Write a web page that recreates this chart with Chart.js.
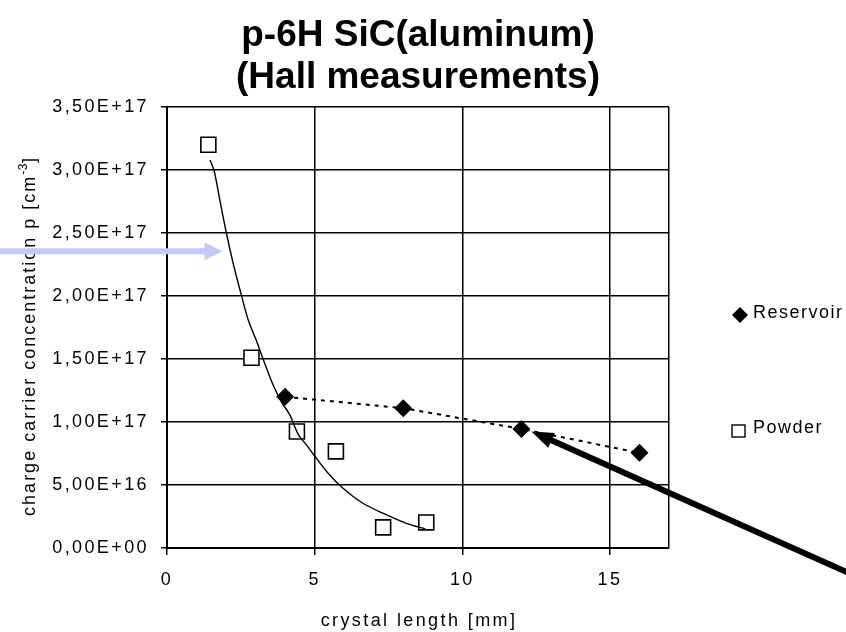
<!DOCTYPE html>
<html>
<head>
<meta charset="utf-8">
<script src="https://cdn.jsdelivr.net/npm/chart.js@4"></script>
<style>
html,body{margin:0;padding:0;background:#fff;}
#wrap{width:846px;height:632px;position:relative;}
canvas{display:block;}
</style>
</head>
<body>
<div id="wrap"><canvas id="c" width="846" height="632"></canvas></div>
<script>
// ---------- data ----------
const titleLines = ['p-6H SiC(aluminum)', '(Hall measurements)'];
const xAxisTitle = 'crystal length [mm]';
const yAxisTitleMain = 'charge carrier concentration p [cm';
const yAxisTitleSup = '-3';
const yAxisTitleEnd = ']';
const seriesNames = ['Reservoir', 'Powder'];

const reservoirX = [4, 8, 12, 16];
const reservoirY = [1.20e17, 1.11e17, 9.45e16, 7.55e16];

const powderX = [1.4, 2.86, 4.4, 5.72, 7.32, 8.78];
const powderY = [3.20e17, 1.51e17, 9.25e16, 7.67e16, 1.64e16, 2.03e16];

// hand-drawn trend curve through the powder points
const powderTrendX = [1.46, 1.60, 1.79, 2.02, 2.24, 2.47, 2.75, 3.02, 3.30, 3.62, 3.90, 4.15, 4.45, 4.75, 4.97, 5.45, 5.95, 6.62, 7.29, 8.08, 8.75];
const powderTrendY = [3.08e17, 2.99e17, 2.76e17, 2.49e17, 2.26e17, 2.05e17, 1.81e17, 1.65e17, 1.47e17, 1.28e17, 1.15e17, 1.06e17, 9.0e16, 8.1e16, 7.4e16, 5.95e16, 4.76e16, 3.57e16, 2.78e16, 1.98e16, 1.51e16];

const xTickValues = [0, 5, 10, 15, 17];
const xTickLabels = ['0', '5', '10', '15', ''];
const yTickValues = [0, 5e16, 1e17, 1.5e17, 2e17, 2.5e17, 3e17, 3.5e17];
const yTickLabels = ['0,00E+00', '5,00E+16', '1,00E+17', '1,50E+17', '2,00E+17', '2,50E+17', '3,00E+17', '3,50E+17'];

// ---------- styles ----------
const FAMILY = '"Liberation Sans", Arial, Helvetica, sans-serif';
const AXIS_FONT = 18;
const LS = '2.4px';

function pts(xs, ys) { return xs.map((x, i) => ({ x: x, y: ys[i] })); }

const spacingPlugin = {
  id: 'spacing',
  beforeLayout(chart) { chart.ctx.letterSpacing = LS; },
  beforeDraw(chart) { chart.ctx.letterSpacing = LS; }
};

function arrow(ctx, x0, y0, x1, y1, w, headLen, headHalf, color) {
  const dx = x1 - x0, dy = y1 - y0;
  const L = Math.hypot(dx, dy);
  const ux = dx / L, uy = dy / L;
  const bx = x1 - ux * headLen, by = y1 - uy * headLen;
  ctx.save();
  ctx.strokeStyle = color; ctx.fillStyle = color;
  ctx.lineWidth = w; ctx.lineCap = 'butt';
  ctx.beginPath(); ctx.moveTo(x0, y0); ctx.lineTo(bx + ux * 2, by + uy * 2); ctx.stroke();
  ctx.beginPath();
  ctx.moveTo(x1, y1);
  ctx.lineTo(bx - uy * headHalf, by + ux * headHalf);
  ctx.lineTo(bx + uy * headHalf, by - ux * headHalf);
  ctx.closePath(); ctx.fill();
  ctx.restore();
}

const decorPlugin = {
  id: 'decor',
  afterDraw(chart) {
    const ctx = chart.ctx;
    const ca = chart.chartArea;
    const xs = chart.scales.x, ys = chart.scales.y;
    ctx.save();
    ctx.fillStyle = '#000';
    // chart title
    ctx.letterSpacing = '0px';
    ctx.font = 'bold 37px ' + FAMILY;
    ctx.textAlign = 'center';
    ctx.textBaseline = 'alphabetic';
    const cx = (ca.left + ca.right) / 2;
    ctx.fillText(titleLines[0], cx, 46);
    ctx.fillText(titleLines[1], cx, 88);

    // x axis title
    ctx.letterSpacing = LS;
    ctx.font = AXIS_FONT + 'px ' + FAMILY;
    ctx.fillText(xAxisTitle, cx + 1, 626);

    // y axis title (rotated, with superscript)
    const YLS = '2px';
    ctx.save();
    ctx.translate(35, 336);
    ctx.rotate(-Math.PI / 2);
    ctx.textAlign = 'left';
    ctx.letterSpacing = YLS;
    ctx.font = AXIS_FONT + 'px ' + FAMILY;
    const w1 = ctx.measureText(yAxisTitleMain).width;
    const w3 = ctx.measureText(yAxisTitleEnd).width;
    ctx.font = '12px ' + FAMILY;
    ctx.letterSpacing = '0.5px';
    const w2 = ctx.measureText(yAxisTitleSup).width;
    let tx = -(w1 + w2 + w3) / 2;
    ctx.letterSpacing = YLS;
    ctx.font = AXIS_FONT + 'px ' + FAMILY;
    ctx.fillText(yAxisTitleMain, tx, 0);
    ctx.font = '12px ' + FAMILY;
    ctx.letterSpacing = '0.5px';
    ctx.fillText(yAxisTitleSup, tx + w1, -8);
    ctx.letterSpacing = YLS;
    ctx.font = AXIS_FONT + 'px ' + FAMILY;
    ctx.fillText(yAxisTitleEnd, tx + w1 + w2, 0);
    ctx.restore();

    // legend
    ctx.letterSpacing = '1.5px';
    ctx.font = AXIS_FONT + 'px ' + FAMILY;
    ctx.textAlign = 'left';
    ctx.textBaseline = 'alphabetic';
    // Reservoir marker (diamond)
    ctx.beginPath();
    ctx.moveTo(740, 307); ctx.lineTo(748, 315); ctx.lineTo(740, 323); ctx.lineTo(732, 315); ctx.closePath();
    ctx.fill();
    ctx.fillText(seriesNames[0], 753, 318);
    // Powder marker (square)
    ctx.fillStyle = '#fff';
    ctx.fillRect(732, 425, 13, 12);
    ctx.strokeStyle = '#000'; ctx.lineWidth = 1.4;
    ctx.strokeRect(732, 425, 13, 12);
    ctx.fillStyle = '#000';
    ctx.fillText(seriesNames[1], 753, 433);

    // light lavender arrow from the left edge
    const tipAx = xs.getPixelForValue(1.88), tipAy = ys.getPixelForValue(2.355e17);
    arrow(ctx, -5, tipAy, tipAx, tipAy, 6, 18, 9, 'rgb(200,200,246)');

    // thick black arrow pointing at the 12 mm reservoir point
    const tipBx = xs.getPixelForValue(12.34), tipBy = ys.getPixelForValue(9.25e16);
    arrow(ctx, 860, 578, tipBx, tipBy, 6, 22, 8, '#000');
    ctx.restore();
  }
};

const chart = new Chart(document.getElementById('c'), {
  type: 'scatter',
  data: {
    datasets: [
      {
        label: 'Powder trend',
        data: pts(powderTrendX, powderTrendY),
        showLine: true,
        borderColor: '#000',
        borderWidth: 1.4,
        pointRadius: 0,
        tension: 0.3,
        fill: false,
        order: 0
      },
      {
        label: seriesNames[0],
        data: pts(reservoirX, reservoirY),
        showLine: true,
        borderColor: '#000',
        borderWidth: 2,
        borderDash: [4, 5],
        pointStyle: 'rectRot',
        pointRadius: 9,
        pointBackgroundColor: '#000',
        pointBorderColor: '#000',
        pointBorderWidth: 0,
        tension: 0,
        fill: false,
        order: 1
      },
      {
        label: seriesNames[1],
        data: pts(powderX, powderY),
        showLine: false,
        pointStyle: 'rect',
        pointRadius: 10.6,
        pointBackgroundColor: '#fff',
        pointBorderColor: '#000',
        pointBorderWidth: 1.6,
        order: 2
      }
    ]
  },
  options: {
    responsive: false,
    animation: false,
    devicePixelRatio: 1,
    events: [],
    layout: { padding: { left: 0, top: 107, right: 177, bottom: 0 } },
    plugins: {
      legend: { display: false },
      title: { display: false },
      tooltip: { enabled: false }
    },
    scales: {
      x: {
        type: 'linear',
        min: 0, max: 17,
        afterBuildTicks(s) { s.ticks = xTickValues.map(v => ({ value: v })); },
        afterFit(s) { s.height = 84; },
        grid: {
          color: '#000', lineWidth: 1.5, tickLength: 7,
          tickColor: (c) => (c.tick && c.tick.value === 17) ? 'rgba(0,0,0,0)' : '#000'
        },
        border: { color: '#000', width: 2 },
        ticks: {
          color: '#000', font: { family: FAMILY, size: AXIS_FONT }, padding: 14,
          maxRotation: 0, autoSkip: false,
          callback: (v, i) => xTickLabels[i]
        }
      },
      y: {
        type: 'linear',
        min: 0, max: 3.5e17,
        afterBuildTicks(s) { s.ticks = yTickValues.map(v => ({ value: v })); },
        afterFit(s) { s.width = 167; },
        grid: { color: '#000', lineWidth: 1.5, tickLength: 6, tickColor: '#000' },
        border: { color: '#000', width: 2 },
        ticks: {
          color: '#000', font: { family: FAMILY, size: AXIS_FONT }, padding: 12,
          autoSkip: false,
          callback: (v, i) => yTickLabels[i]
        }
      }
    }
  },
  plugins: [spacingPlugin, decorPlugin]
});
</script>
</body>
</html>
